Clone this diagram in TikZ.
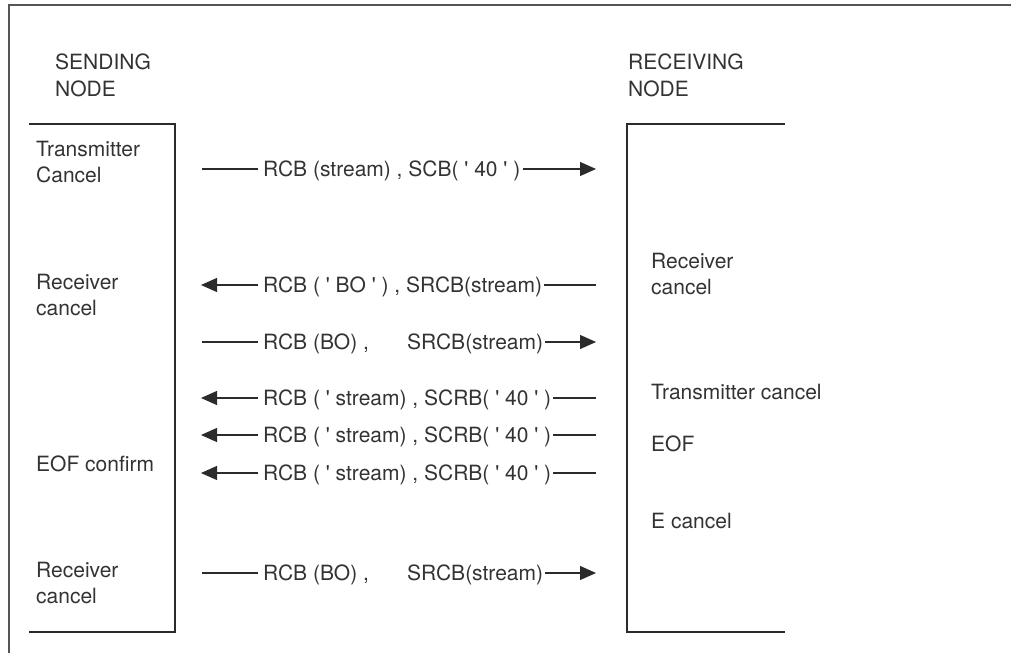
\documentclass[tikz,border=0pt]{standalone}
\usepackage{fontspec}
\setmainfont{TeX Gyre Heros}[Ligatures=TeXOff]
\usetikzlibrary{arrows.meta}
\definecolor{ink}{HTML}{2B2B2B}
\definecolor{txt}{HTML}{333333}
\definecolor{frm}{HTML}{555555}
\begin{document}
\begin{tikzpicture}[x=1pt,y=-1pt,
  msg/.style={anchor=west,inner xsep=0pt,inner ysep=0pt,text height=15pt,text depth=0pt,font=\fontsize{21}{25}\selectfont,text=txt},
  lbl/.style={anchor=north west,inner sep=0pt,align=left,font=\fontsize{21}{25.5}\selectfont,text=txt},
  hdr/.style={lbl,font=\fontsize{21}{26.5}\selectfont},
  conn/.style={draw=ink,line width=1.2pt},
  arr/.style={conn,-{Triangle[length=16pt,width=14pt]}},
  boxline/.style={draw=ink,line width=1.5pt},
]
\useasboundingbox (0,0) rectangle (1011,653);
% outer frame (only top and left visible)
\draw[draw=frm,line width=1.6pt] (9,653) -- (9,5) -- (1011,5);
% node boxes
\draw[boxline] (29,124) -- (175,124) -- (175,632) -- (29,632);
\draw[boxline] (785,124) -- (627,124) -- (627,632) -- (785,632);
% headers
\node[hdr] (sh) at (55,54) {SENDING\\NODE};
\node[hdr] (rh) at (628,54) {RECEIVING\\NODE};
% left labels
\node[lbl] (l1) at (36,141) {Transmitter\\Cancel};
\node[lbl] (l2) at (36,274) {Receiver\\cancel};
\node[lbl] (l3) at (36,456) {EOF confirm};
\node[lbl] (l4) at (36,562) {Receiver\\cancel};
% right labels
\node[lbl] (q1) at (651,253) {Receiver\\cancel};
\node[lbl] (q2) at (651,384) {Transmitter cancel};
\node[lbl] (q3) at (651,436) {EOF};
\node[lbl] (q4) at (651,513) {E cancel};
% row 1
\coordinate (a1) at (202,169);
\coordinate (b1) at (596,169);
\node[msg] (m1) at (263,169) {RCB (stream) , SCB( ' 40 ' )};
\draw[conn] (a1) -- ([xshift=-5pt]m1.west);
\draw[arr] ([xshift=2pt]m1.east) -- (b1);
% row 2
\coordinate (a2) at (201,285);
\coordinate (b2) at (596,285);
\node[msg] (m2) at (263,285) {RCB ( ' BO ' ) , SRCB(stream)};
\draw[arr] ([xshift=-5pt]m2.west) -- (a2);
\draw[conn] ([xshift=2pt]m2.east) -- (b2);
% row 3
\coordinate (a3) at (202,342);
\coordinate (b3) at (596,342);
\node[msg] (m3) at (263,342) {RCB (BO) ,};
\node[msg] (n3) at (407,342) {SRCB(stream)};
\draw[conn] (a3) -- ([xshift=-5pt]m3.west);
\draw[arr] ([xshift=2pt]n3.east) -- (b3);
% rows 4-6
\coordinate (a4) at (201,398);
\coordinate (b4) at (596,398);
\node[msg] (m4) at (263,398) {RCB ( ' stream) , SCRB( ' 40 ' )};
\draw[arr] ([xshift=-5pt]m4.west) -- (a4);
\draw[conn] ([xshift=2pt]m4.east) -- (b4);
\coordinate (a5) at (201,435);
\coordinate (b5) at (596,435);
\node[msg] (m5) at (263,435) {RCB ( ' stream) , SCRB( ' 40 ' )};
\draw[arr] ([xshift=-5pt]m5.west) -- (a5);
\draw[conn] ([xshift=2pt]m5.east) -- (b5);
\coordinate (a6) at (201,473);
\coordinate (b6) at (596,473);
\node[msg] (m6) at (263,473) {RCB ( ' stream) , SCRB( ' 40 ' )};
\draw[arr] ([xshift=-5pt]m6.west) -- (a6);
\draw[conn] ([xshift=2pt]m6.east) -- (b6);
% row 7
\coordinate (a7) at (202,573);
\coordinate (b7) at (596,573);
\node[msg] (m7) at (263,573) {RCB (BO) ,};
\node[msg] (n7) at (407,573) {SRCB(stream)};
\draw[conn] (a7) -- ([xshift=-5pt]m7.west);
\draw[arr] ([xshift=2pt]n7.east) -- (b7);
\end{tikzpicture}
\end{document}
